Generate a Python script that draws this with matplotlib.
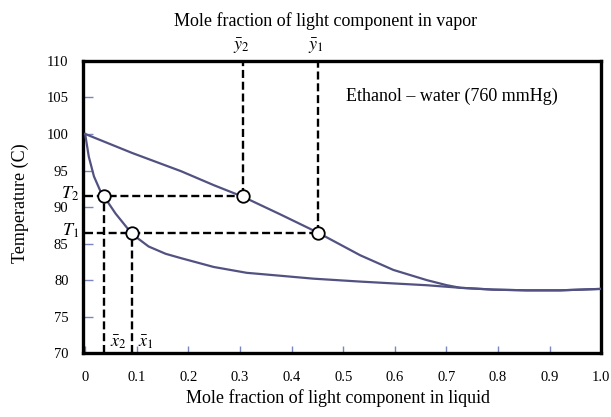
import matplotlib.pyplot as plt

plt.rcParams['font.family'] = ['Liberation Serif', 'DejaVu Serif']
plt.rcParams['mathtext.fontset'] = 'stix'

# Bubble point curve (liquid composition)
x_liq = [0, 0.007, 0.017, 0.03, 0.037, 0.059, 0.091, 0.123, 0.156, 0.186, 0.249,
         0.313, 0.378, 0.442, 0.533, 0.597, 0.662, 0.727, 0.791, 0.856, 0.92, 1.0]
T_liq = [100, 96.9, 94.2, 92.1, 91.4, 89.1, 86.3, 84.6, 83.6, 83.0, 81.8,
         81.0, 80.6, 80.2, 79.8, 79.55, 79.3, 78.95, 78.7, 78.6, 78.6, 78.8]

# Dew point curve (vapor composition)
y_vap = [0, 0.091, 0.186, 0.249, 0.306, 0.378, 0.451, 0.533, 0.597, 0.662, 0.701,
         0.727, 0.791, 0.856, 0.92, 1.0]
T_vap = [100, 97.4, 94.9, 93.0, 91.4, 89.0, 86.5, 83.4, 81.4, 80.0, 79.3,
         78.95, 78.7, 78.6, 78.6, 78.8]

# Two tie lines
T_ties = [91.45, 86.4]
x_ties = [0.037, 0.091]
y_ties = [0.306, 0.451]
T_names = ['$T_2$', '$T_1$']
x_names = [r'$\bar{x}_2$', r'$\bar{x}_1$']
y_names = [r'$\bar{y}_2$', r'$\bar{y}_1$']

xticks = [0, 0.1, 0.2, 0.3, 0.4, 0.5, 0.6, 0.7, 0.8, 0.9, 1.0]
xticklabels = ['0', '0.1', '0.2', '0.3', '0.4', '0.5', '0.6', '0.7', '0.8', '0.9', '1.0']
yticks = [70, 75, 80, 85, 90, 95, 100, 105, 110]

fig = plt.figure(figsize=(6.11, 4.17), dpi=100)
ax = fig.add_axes([0.136, 0.153, 0.848, 0.701])

curve_color = '#525282'
ax.plot(x_liq, T_liq, color=curve_color, lw=1.6, zorder=3)
ax.plot(y_vap, T_vap, color=curve_color, lw=1.6, zorder=3)

dash = (0, (3.4, 1.6))
for T, xl, yv, tn, xn, yn in zip(T_ties, x_ties, y_ties, T_names, x_names, y_names):
    ax.plot([0, yv], [T, T], color='black', lw=1.7, ls=dash, zorder=2)
    ax.plot([yv, yv], [T, 110], color='black', lw=1.7, ls=dash, zorder=2)
    ax.plot([xl, xl], [70, T], color='black', lw=1.7, ls=dash, zorder=2)
    ax.plot([xl, yv], [T, T], ls='none', marker='o', ms=9, mfc='white',
            mec='black', mew=1.3, zorder=4)
    ax.text(-0.011, T + 0.3, tn, ha='right', va='center', fontsize=13, clip_on=False)
    ax.text(xl + 0.011, 71.5, xn, ha='left', va='center', fontsize=13)
    ax.text(yv - 0.004, 112.0, yn, ha='center', va='center', fontsize=13, clip_on=False)

ax.text(0.505, 105.1, 'Ethanol – water (760 mmHg)', ha='left', va='center', fontsize=13)

ax.set_xlim(-0.004, 1.0)
ax.set_ylim(70, 110)
ax.set_xticks(xticks)
ax.set_xticklabels(xticklabels)
ax.set_yticks(yticks)
ax.tick_params(axis='x', direction='in', length=5, width=1, color='#7a86c0',
               labelsize=10.5, pad=13)
ax.tick_params(axis='y', direction='in', length=7, width=1, color='#7a86c0',
               labelsize=10.5, pad=10.5)
for s in ax.spines.values():
    s.set_linewidth(2.4)
    s.set_color('black')

fig.text(338 / 611, 1 - 398 / 417, 'Mole fraction of light component in liquid',
         ha='center', va='center', fontsize=13)
fig.text(326 / 611, 1 - 21 / 417, 'Mole fraction of light component in vapor',
         ha='center', va='center', fontsize=13)
fig.text(20 / 611, 1 - 203 / 417, 'Temperature (C)', rotation=90,
         ha='center', va='center', fontsize=13)

fig.savefig('out.png', dpi=100)
